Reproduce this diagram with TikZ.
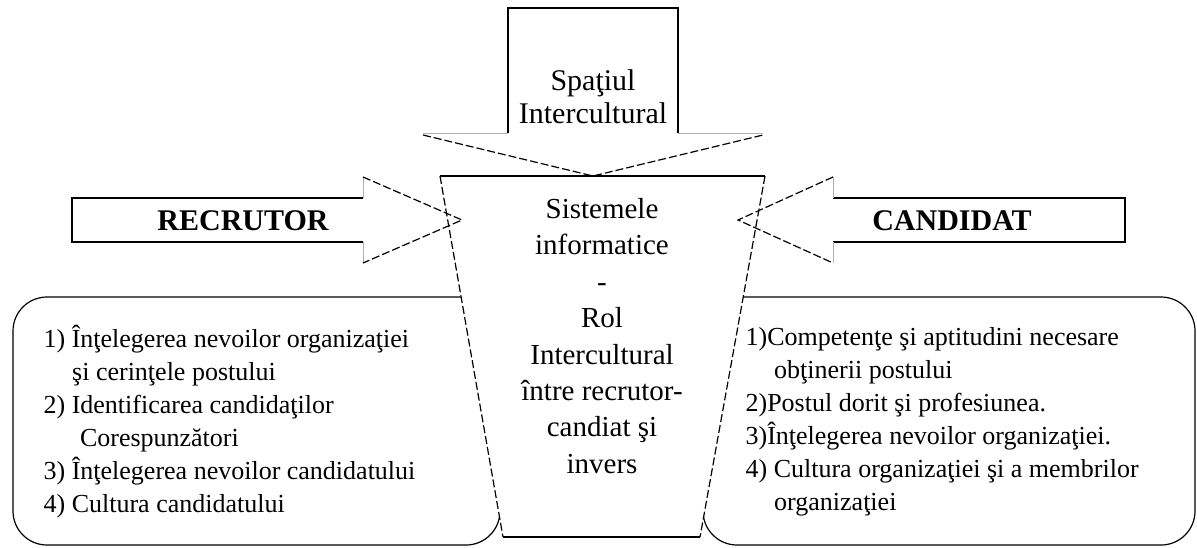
\documentclass[tikz,border=0pt]{standalone}
\usepackage{fontspec}
\setmainfont{Liberation Serif}

\begin{document}
\begin{tikzpicture}[x=0.5pt,y=-0.5pt,line width=0.6pt,
		dashline/.style={dash pattern=on 4pt off 1.5pt},
		umar/.style={gray!60,line width=0.5pt},
		caseta/.style={fill=white,rounded corners=17pt},
		lista/.style={align=left,anchor=west,inner sep=0pt,font=\fontsize{13}{16.5}\selectfont},
		eticheta/.style={font=\bfseries\fontsize{15}{18}\selectfont,inner sep=0pt},
		centru/.style={align=center,inner sep=0pt,font=\fontsize{14.5}{18.2}\selectfont}]
		\useasboundingbox (0,0) rectangle (1197,547);

		% casetele de jos
		\draw [caseta] (13,297) rectangle (500,545);
		\draw [caseta] (703,297) rectangle (1195,545);

		% trapezul din mijloc
		\fill [white] (440,176) -- (765,176) -- (700,537) -- (503,537) -- cycle;
		\draw (440,176) -- (765,176) (503,537) -- (700,537);
		\draw [dashline] (440,176) -- (503,537) (765,176) -- (700,537);

		% sageata de sus
		\draw (508,133) -- (508,8) -- (678,8) -- (678,133);
		\draw [umar] (508,133) -- (423,133) (678,133) -- (763,133);
		\draw [dashline] (423,135) -- (593,176) -- (763,135);
		% sageata stanga
		\draw (363,198) -- (72,198) -- (72,242) -- (363,242);
		\draw [umar] (363,198) -- (363,177) (363,242) -- (363,263);
		\draw [dashline] (363,177) -- (462,220) -- (363,263);
		% sageata dreapta
		\draw (833,198) -- (1125,198) -- (1125,242) -- (833,242);
		\draw [umar] (833,198) -- (833,177) (833,242) -- (833,263);
		\draw [dashline] (833,177) -- (738,220) -- (833,263);

		\draw (593,97) node [centru,font=\fontsize{15}{16.5}\selectfont] (spatiu) {Spaţiul\\Intercultural};
		\draw (243,221) node [eticheta] (recrutor) {RECRUTOR};
		\draw (952,221) node [eticheta] (candidat) {CANDIDAT};
		\draw (602,336) node [centru] (sisteme) {Sistemele\\informatice\\-\\Rol\\Intercultural\\între recrutor-\\candiat şi\\invers};

		\draw (43,422) node [lista] (lr) {1) Înţelegerea nevoilor organizaţiei\\
			\hspace*{1.1em}şi cerinţele postului\\
			2) Identificarea candidaţilor\\
			\hspace*{1.4em}Corespunzători\\
			3) Înţelegerea nevoilor candidatului\\
			4) Cultura candidatului};
		\draw (745,422) node [lista] (lc) {1)Competenţe şi aptitudini necesare\\
			\hspace*{1.1em}obţinerii postului\\
			2)Postul dorit şi profesiunea.\\
			3)Înţelegerea nevoilor organizaţiei.\\
			4) Cultura organizaţiei şi a membrilor\\
			\hspace*{1.1em}organizaţiei};
	\end{tikzpicture}
\end{document}
